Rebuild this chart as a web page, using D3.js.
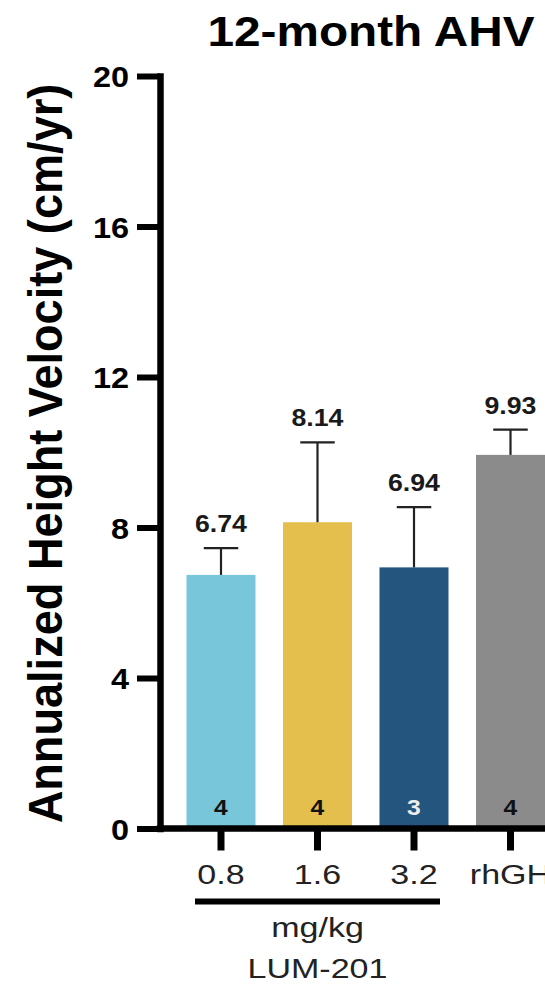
<!DOCTYPE html>
<html>
<head>
<meta charset="utf-8">
<script src="https://cdn.jsdelivr.net/npm/d3@7"></script>
<style>
  html, body { margin: 0; padding: 0; background: #fff; }
  svg { display: block; font-family: "Liberation Sans", Arial, Helvetica, sans-serif; }
</style>
</head>
<body>
<svg id="chart" width="545" height="985"></svg>
<script>
// Groups on the x axis (LUM-201 doses in mg/kg, plus rhGH)
const categories = ["0.8", "1.6", "3.2", "rhGH"];
// Mean 12-month annualized height velocity (cm/yr)
const means = [6.74, 8.14, 6.94, 9.93];
// Upper error (SD) above each mean
const errors = [0.71, 2.12, 1.60, 0.67];
// Number of subjects per group
const counts = [4, 4, 3, 4];
// Y-axis tick values
const yTicks = [0, 4, 8, 12, 16, 20];
// Text labels
const titleText = "12-month AHV";
const yAxisTitle = "Annualized Height Velocity (cm/yr)";
const unitLabel = "mg/kg";
const drugLabel = "LUM-201";

const rows = categories.map((c, i) => ({ cat: c, mean: means[i], err: errors[i], n: counts[i] }));

const svg = d3.select("#chart");
const W = 545;

const color = d3.scaleOrdinal(categories, ["#78C6D9", "#E4BF4D", "#24557F", "#8B8B8B"]);

const y = d3.scaleLinear().domain([0, 20]).range([828.5, 76]);
const x = d3.scaleBand()
  .domain(categories)
  .range([172.75, 558.75])
  .paddingInner(0.285)
  .paddingOuter(0.1425);
const bw = x.bandwidth();
const cx = c => x(c) + bw / 2;

// Horizontal stretch helper: widen/narrow a text run by a factor of its natural length
function stretch(sel, factor) {
  sel.each(function () {
    const len = this.getComputedTextLength();
    d3.select(this)
      .attr("textLength", len * factor)
      .attr("lengthAdjust", "spacingAndGlyphs");
  });
}

// Bars
svg.append("g").selectAll("rect")
  .data(rows)
  .join("rect")
  .attr("x", d => x(d.cat))
  .attr("y", d => y(d.mean))
  .attr("width", bw)
  .attr("height", d => y(0) - y(d.mean))
  .attr("fill", d => color(d.cat));

// Error bars (upper only)
const eb = svg.append("g")
  .attr("stroke", "#222")
  .attr("stroke-width", 2.2);
eb.selectAll("line.v")
  .data(rows)
  .join("line")
  .attr("class", "v")
  .attr("x1", d => cx(d.cat)).attr("x2", d => cx(d.cat))
  .attr("y1", d => y(d.mean)).attr("y2", d => y(d.mean + d.err));
eb.selectAll("line.cap")
  .data(rows)
  .join("line")
  .attr("class", "cap")
  .attr("x1", d => cx(d.cat) - bw / 4).attr("x2", d => cx(d.cat) + bw / 4)
  .attr("y1", d => y(d.mean + d.err)).attr("y2", d => y(d.mean + d.err));

// Mean value labels above error bars
svg.append("g").selectAll("text")
  .data(rows)
  .join("text")
  .attr("x", d => cx(d.cat))
  .attr("y", d => y(d.mean + d.err) - 16)
  .attr("text-anchor", "middle")
  .attr("font-size", 23)
  .attr("font-weight", "bold")
  .attr("fill", "#1a1a1a")
  .text(d => d.mean.toFixed(2))
  .call(stretch, 1.16);

// n labels inside the bars
svg.append("g").selectAll("text")
  .data(rows)
  .join("text")
  .attr("x", d => cx(d.cat))
  .attr("y", y(0) - 13.5)
  .attr("text-anchor", "middle")
  .attr("font-size", 22)
  .attr("font-weight", "bold")
  .attr("fill", d => d3.hsl(color(d.cat)).l < 0.4 ? "#eeeeee" : "#111")
  .text(d => d.n)
  .call(stretch, 1.12);

// Y axis
const yAxis = svg.append("g")
  .attr("transform", "translate(160,0)")
  .call(d3.axisLeft(y).tickValues(yTicks).tickSize(23).tickSizeOuter(0).tickPadding(8));
yAxis.select(".domain")
  .attr("stroke", "#000")
  .attr("stroke-width", 6.5)
  .attr("stroke-linecap", "square");
yAxis.selectAll(".tick line").attr("stroke", "#000").attr("stroke-width", 6);
yAxis.selectAll(".tick text")
  .attr("font-family", null)
  .attr("font-size", 30)
  .attr("font-weight", "bold")
  .attr("fill", "#000")
  .attr("dy", "0.36em")
  .call(stretch, 1.08);

// X axis baseline
svg.append("line")
  .attr("x1", 160 - 3.25).attr("x2", W)
  .attr("y1", y(0)).attr("y2", y(0))
  .attr("stroke", "#000")
  .attr("stroke-width", 6.5);

// X axis ticks and category labels
const xAxis = svg.append("g")
  .attr("transform", `translate(0,${y(0)})`)
  .call(d3.axisBottom(x).tickSize(22).tickSizeOuter(0));
xAxis.select(".domain").remove();
xAxis.selectAll(".tick line").attr("stroke", "#000").attr("stroke-width", 7);
xAxis.selectAll(".tick text")
  .attr("font-family", null)
  .attr("font-size", 27)
  .attr("fill", "#222")
  .attr("y", 55.5)
  .attr("dy", 0)
  .call(stretch, 1.26);

// Bracket grouping the LUM-201 doses
const bx1 = cx(categories[0]) - 26;
const bx2 = cx(categories[2]) + 26;
svg.append("line")
  .attr("x1", bx1).attr("x2", bx2)
  .attr("y1", 901.5).attr("y2", 901.5)
  .attr("stroke", "#000")
  .attr("stroke-width", 6);

svg.append("text")
  .attr("x", (bx1 + bx2) / 2)
  .attr("y", 937)
  .attr("text-anchor", "middle")
  .attr("font-size", 27)
  .attr("fill", "#222")
  .text(unitLabel)
  .call(stretch, 1.26);

svg.append("text")
  .attr("x", (bx1 + bx2) / 2)
  .attr("y", 978)
  .attr("text-anchor", "middle")
  .attr("font-size", 27)
  .attr("fill", "#222")
  .text(drugLabel)
  .call(stretch, 1.26);

// Y axis title
svg.append("text")
  .attr("transform", "translate(62,453.5) rotate(-90)")
  .attr("text-anchor", "middle")
  .attr("font-size", 48)
  .attr("font-weight", "bold")
  .attr("fill", "#000")
  .text(yAxisTitle)
  .call(stretch, 0.94);

// Chart title
svg.append("text")
  .attr("x", 371)
  .attr("y", 46)
  .attr("text-anchor", "middle")
  .attr("font-size", 43)
  .attr("font-weight", "bold")
  .attr("fill", "#000")
  .text(titleText)
  .call(stretch, 1.11);
</script>
</body>
</html>
